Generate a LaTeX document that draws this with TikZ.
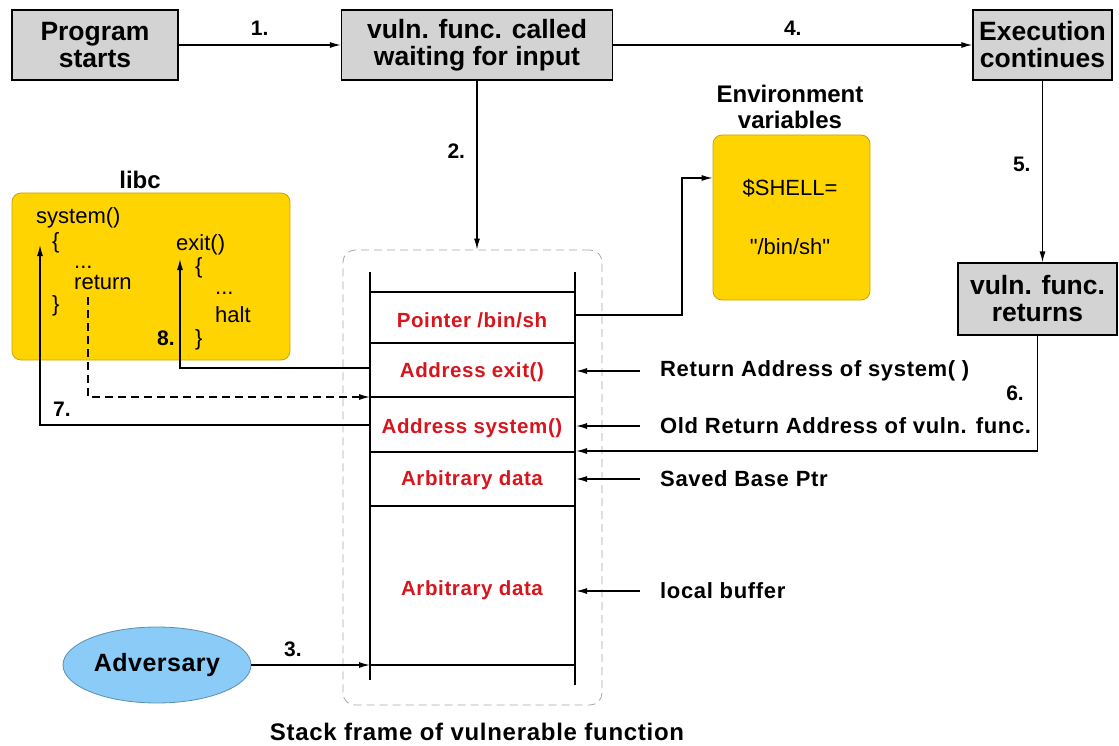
\documentclass[tikz,border=0pt]{standalone}
\usepackage{fontspec}
\setmainfont{Liberation Sans}
\newfontfamily\codefont{Liberation Sans}
\usepackage{tikz}
\usetikzlibrary{shapes,arrows.meta,positioning}

\definecolor{boxgrey}{HTML}{D3D3D3}
\definecolor{libyellow}{HTML}{FFD400}
\definecolor{libborder}{HTML}{C9A400}
\definecolor{advblue}{HTML}{8ACBF7}
\definecolor{advborder}{HTML}{5A8FB0}
\definecolor{stackred}{HTML}{D8141C}

\begin{document}
\begin{tikzpicture}[
    x=1pt, y=-1pt,
    procbox/.style={rectangle, draw, line width=1.3pt, fill=boxgrey, align=center,
        font=\fontsize{26.5}{27}\selectfont\bfseries, inner sep=0pt},
    libbox/.style={rectangle, rounded corners=9pt, draw=libborder, line width=0.8pt, fill=libyellow},
    title/.style={align=center, font=\fontsize{24}{26}\selectfont\bfseries},
    code/.style={anchor=base west, inner sep=0pt, font=\codefont\fontsize{22}{24}\selectfont},
    cell/.style={text=stackred, font=\fontsize{20.5}{22}\selectfont\bfseries\addfontfeature{LetterSpace=3}},
    note/.style={anchor=west, inner sep=0pt, font=\fontsize{22}{24}\selectfont\bfseries\addfontfeature{LetterSpace=3}},
    step label/.style={font=\fontsize{21}{22}\selectfont\bfseries},
    arrow/.style={-{Latex[length=11pt,width=6pt]}, line width=1.3pt},
    longdash/.style={dash pattern=on 8pt off 5pt}
]
\useasboundingbox (0,0) rectangle (1119,746);

% control flow boxes
\node[procbox, minimum width=166, minimum height=70] (start) at (95,45) {Program\\starts};
\node[procbox, minimum width=271, minimum height=70] (called) at (477,45) {vuln. func. called\\waiting for input};
\node[procbox, minimum width=139, minimum height=70] (cont) at (1042.5,45) {Execution\\continues};
\node[procbox, minimum width=159, minimum height=72] (ret) at (1037.5,299) {vuln. func.\\returns};

% environment variables
\node[title] (envtitle) at (790,107) {Environment\\variables};
\node[libbox, minimum width=157, minimum height=165] (env) at (791.5,217.5) {};
\node[font=\codefont\fontsize{22}{24}\selectfont] (shell) at (790,188) {\$SHELL=};
\node[font=\codefont\fontsize{22}{24}\selectfont] (binsh) at (790,247) {"/bin/sh"};

% libc
\node[title] (libctitle) at (140,180) {libc};
\node[libbox, minimum width=278, minimum height=167] (libc) at (151,276.5) {};
\node[code] (system) at (36,223) {system()};
\node[code] (sysopen) at (52,248) {\{};
\node[code] (sysdots) at (74,269) {...};
\node[code] (sysret) at (74,289) {return};
\node[code] (sysclose) at (52,311) {\}};
\node[code] (exit) at (176,251) {exit()};
\node[code] (exitopen) at (195,273) {\{};
\node[code] (exitdots) at (215,294) {...};
\node[code] (halt) at (215,322) {halt};
\node[code] (exitclose) at (195,345) {\}};

% stack frame
\node[rectangle, draw=gray!70, longdash, rounded corners=12pt, line width=0.8pt,
    minimum width=259, minimum height=455] (frame) at (472.5,477.5) {};
\draw[line width=1.3pt] (370,272) -- (370,680);
\draw[line width=1.3pt] (575,272) -- (575,685);
\foreach \y in {292,343,397,452,506,665}
    \draw[line width=1.3pt] (370,\y) -- (575,\y);
\node[cell] (ptr) at (472,320) {Pointer /bin/sh};
\node[cell] (exitaddr) at (472,372) {Address exit()};
\node[cell] (sysaddr) at (472,428) {Address system()};
\node[cell] (ebpdata) at (472,480) {Arbitrary data};
\node[cell] (bufdata) at (472,590) {Arbitrary data};
\node[title, font=\fontsize{24}{26}\selectfont\bfseries\addfontfeature{LetterSpace=3}] (caption) at (477,732)
    {Stack frame of vulnerable function};

% attach points on the stack walls
\coordinate (ptrout) at (575,315);
\coordinate (exitout) at (370,368);
\coordinate (sysretin) at (370,397);
\coordinate (sysout) at (370,425);
\coordinate (ebpin) at (576,451);
\coordinate (advin) at (370,665);
\coordinate (rw) at (576,0);

% notes
\node[note] (ranote) at (660,371) {Return Address of system( )};
\node[note] (oldnote) at (660,426) {Old Return Address of vuln. func.};
\node[note] (ebpnote) at (660,479) {Saved Base Ptr};
\node[note] (bufnote) at (660,591) {local buffer};
\foreach \n in {ranote,oldnote,ebpnote,bufnote}
    \draw[arrow] ([xshift=-20pt]\n.west) -- (\n.west -| rw);

% adversary
\node[ellipse, draw=advborder, line width=0.8pt, fill=advblue, minimum width=185, minimum height=76,
    font=\fontsize{25}{26}\selectfont\bfseries\addfontfeature{LetterSpace=2}] (adv) at (157,665) {Adversary};

% steps
\draw[arrow] (start) -- node[step label, above=6pt] {1.} (called);
\draw[arrow] (called.south) -- node[step label, left=8pt, pos=0.42] {2.} (called.south |- frame.north);
\draw[arrow] (adv) -- node[step label, above=4pt, pos=0.35] {3.} (advin);
\draw[arrow] (called) -- node[step label, above=6pt] {4.} (cont);
\draw[arrow] (cont.south) -- node[step label, left=8pt, pos=0.46] {5.} (cont.south |- ret.north);
\draw[arrow] (ret.south) |- (ebpin);
\node[step label] (six) at (1015,393) {6.};
\draw[arrow] (sysout) -| (40,245);
\node[step label] (seven) at (62,409) {7.};
\draw[arrow] (exitout) -| (180,259);
\node[step label] (eight) at (166,338) {8.};
\draw[arrow, longdash] (88,297) |- (sysretin);
\draw[arrow] (ptrout) -- ++(107,0) |- (env.west |- 0,178);

\end{tikzpicture}
\end{document}
